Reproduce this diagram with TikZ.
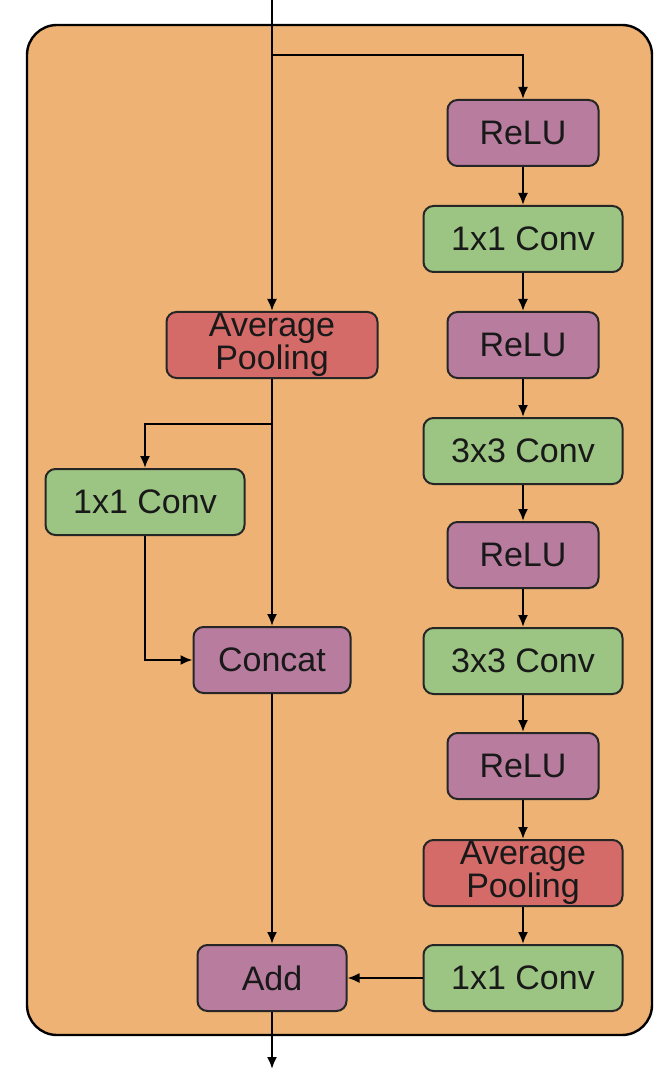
\documentclass[tikz,border=0pt]{standalone}
\usepackage{fontspec}
\setmainfont{Liberation Sans}
\usetikzlibrary{arrows.meta}
\definecolor{bgorange}{HTML}{EDB274}
\definecolor{purp}{HTML}{B87C9F}
\definecolor{grn}{HTML}{9CC583}
\definecolor{redpool}{HTML}{D46B68}
\tikzset{blk/.style={draw=black!85, line width=1pt, rounded corners=5pt, minimum height=33pt, inner sep=0pt, align=center, text=black!90, font=\fontsize{17}{16.5}\selectfont},
  relu/.style={blk, fill=purp, minimum width=75.5pt},
  conv/.style={blk, fill=grn, minimum width=99.5pt},
  pool/.style={blk, fill=redpool, minimum width=99.5pt},
  arr/.style={line width=1pt, -{Latex[length=6pt,width=5pt]}}}

\begin{document}
\begin{tikzpicture}[x=0.5pt,y=-0.5pt]

\useasboundingbox (0,0) rectangle (664,1069);
\draw[fill=bgorange, line width=1.2pt, rounded corners=15pt] (27,25) rectangle (652,1035);

% right branch
\node[relu] (relu1) at (523,133) {ReLU};
\node[conv] (conv1) at (523,239) {1x1 Conv};
\node[relu] (relu2) at (523,345) {ReLU};
\node[conv] (conv2) at (523,451) {3x3 Conv};
\node[relu] (relu3) at (523,555) {ReLU};
\node[conv] (conv3) at (523,661) {3x3 Conv};
\node[relu] (relu4) at (523,766) {ReLU};
\node[pool] (pool2) at (523,873) {Average\\Pooling};
\node[conv] (conv4) at (523,978) {1x1 Conv};

% left branch
\node[pool, minimum width=105.5pt] (pool1) at (272,345) {Average\\Pooling};
\node[conv] (lconv) at (145,502) {1x1 Conv};
\node[relu, minimum width=78.5pt] (concat) at (272,660) {Concat};
\node[relu, minimum width=74.5pt] (add) at (272,978) {Add};

\coordinate (in) at (272,0);
\coordinate (split) at (272,55);
\coordinate (split2) at (272,424);
\coordinate (out) at (272,1069);

\draw[arr] (in) -- (pool1);
\draw[arr] (split) -| (relu1);
\draw[arr] (relu1) -- (conv1);
\draw[arr] (conv1) -- (relu2);
\draw[arr] (relu2) -- (conv2);
\draw[arr] (conv2) -- (relu3);
\draw[arr] (relu3) -- (conv3);
\draw[arr] (conv3) -- (relu4);
\draw[arr] (relu4) -- (pool2);
\draw[arr] (pool2) -- (conv4);
\draw[arr] (conv4) -- (add);

\draw[arr] (pool1) -- (concat);
\draw[arr] (split2) -| (lconv);
\draw[arr] (lconv) |- (concat);
\draw[arr] (concat) -- (add);
\draw[arr] (add) -- (out);

\end{tikzpicture}
\end{document}
